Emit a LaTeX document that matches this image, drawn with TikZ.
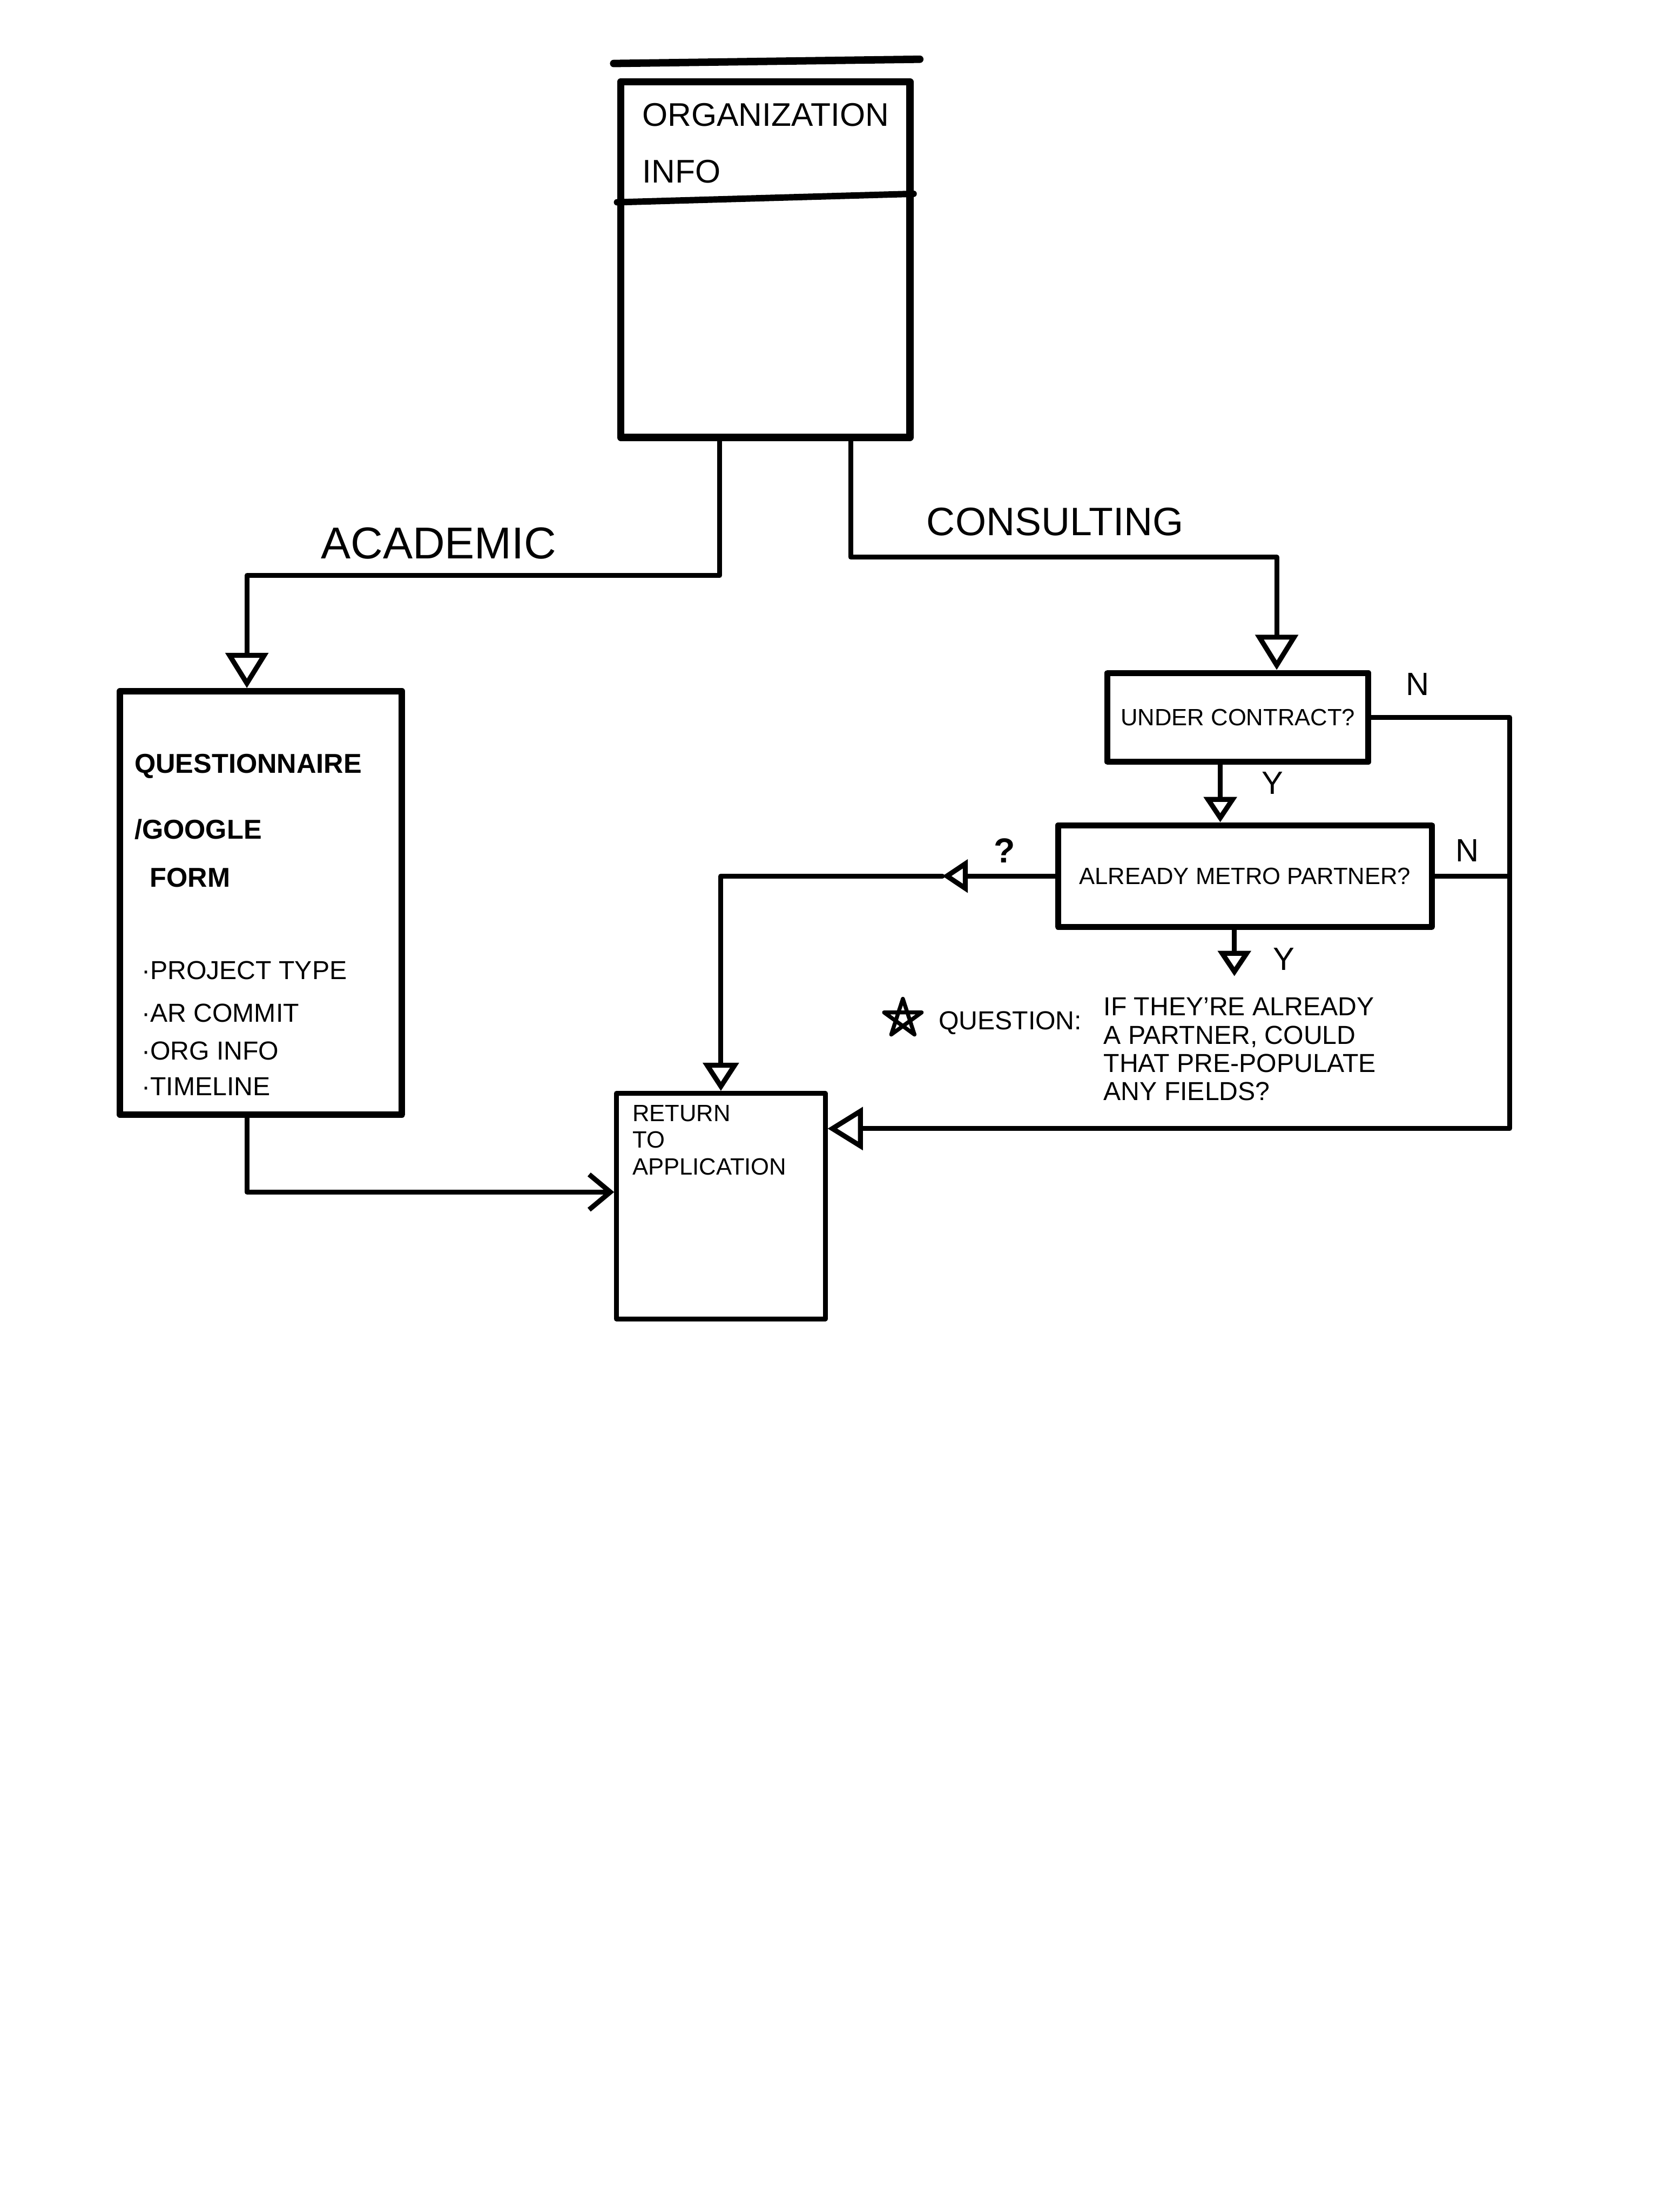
\documentclass[tikz,border=0pt]{standalone}
\usepackage{fontspec}
\setmainfont{Liberation Sans}
\usetikzlibrary{arrows.meta,calc}
\begin{document}
\begin{tikzpicture}[x=0.02cm,y=-0.02cm, line cap=round, line join=round,
  box/.style={draw, line width=2.6pt, inner sep=0pt},
  conn/.style={line width=2pt},
  bigtri/.style={-{Triangle[open,length=0.5cm,width=0.6cm]}},
  midtri/.style={-{Triangle[open,length=0.4cm,width=0.5cm]}},
  smalltri/.style={-{Triangle[open,length=0.36cm,width=0.46cm]}},
  barb/.style={-{Straight Barb[length=0.3cm,width=0.5cm]}},
  txt/.style={inner sep=0pt, anchor=west, font=\fontsize{10.5}{12}\selectfont},
  yn/.style={inner sep=0pt, font=\fontsize{13}{15}\selectfont},
]
\useasboundingbox (0,0) rectangle (1176,1568);
\fill[white] (0,0) rectangle (1176,1568);

% ---------- Organization info ----------
\node[box, line width=3pt, minimum width=4.1cm, minimum height=5.04cm] (org) at (542.5,184) {};
\draw[line width=3pt] (435,45) -- (652,42);
\draw[line width=2.6pt] ($(org.north west)+(0,88)$) -- ($(org.north east)+(0,82)$);
\node[inner sep=0pt, anchor=north west, align=left, font=\fontsize{13.2}{22.8}\selectfont] (orgtxt) at (455,73) {ORGANIZATION\\INFO};

% ---------- Questionnaire ----------
\node[box, minimum width=4cm, minimum height=6cm] (qform) at (185,640) {};
\node[txt, font=\bfseries\fontsize{11}{13}\selectfont] (qt1) at (95,543) {QUESTIONNAIRE};
\node[txt, font=\bfseries\fontsize{11}{13}\selectfont] (qt2) at (95,588) {/GOOGLE};
\node[txt, font=\bfseries\fontsize{11}{13}\selectfont] (qt3) at (106,622) {FORM};
\node[txt] (b1) at (100,688) {·PROJECT TYPE};
\node[txt] (b2) at (100,718) {·AR COMMIT};
\node[txt] (b3) at (100,745) {·ORG INFO};
\node[txt] (b4) at (100,770) {·TIMELINE};

% ---------- Return to application ----------
\node[box, line width=1.9pt, minimum width=2.96cm, minimum height=3.2cm] (ret) at (511,855) {};
\node[inner sep=0pt, anchor=north west, align=left, font=\fontsize{9.5}{10.8}\selectfont] (rettxt) at (448,783) {RETURN\\TO\\APPLICATION};

% ---------- Decisions ----------
\node[box, line width=2.4pt, minimum width=3.7cm, minimum height=1.26cm, font=\fontsize{9.5}{11}\selectfont] (uc) at (877.5,508.5) {UNDER CONTRACT?};
\node[box, line width=2.4pt, minimum width=5.3cm, minimum height=1.44cm, font=\fontsize{9.5}{11}\selectfont] (metro) at (882.5,621) {ALREADY METRO PARTNER?};

% ---------- Connectors ----------
\coordinate (aL) at (510,408);
\coordinate (aD) at (175,408);
\draw[conn, bigtri] (org.south -| aL) -- (aL) -- (aD) -- (qform.north -| aD);
\node[inner sep=0pt, font=\fontsize{18}{20}\selectfont] (acad) at (311,385) {ACADEMIC};

\coordinate (cL) at (603,395);
\coordinate (cR) at (905,395);
\draw[conn, bigtri] (org.south -| cL) -- (cL) -- (cR) -- (uc.north -| cR);
\node[inner sep=0pt, font=\fontsize{16}{18}\selectfont] (cons) at (748,370) {CONSULTING};

\coordinate (ya) at (865,0);
\draw[conn, smalltri] (uc.south -| ya) -- (metro.north -| ya);
\node[yn] (y1) at (902,555) {Y};

\coordinate (nr) at (1070,800);
\draw[conn, bigtri] (uc.east) -| (nr) -- (ret.east |- nr);
\node[yn] (n1) at (1005,485) {N};

\draw[conn] (metro.east) -- (metro.east -| nr);
\node[yn] (n2) at (1040,603) {N};

\coordinate (yb) at (875,692);
\draw[conn, smalltri] (metro.south -| yb) -- (yb);
\node[yn] (y2) at (910,680) {Y};

\coordinate (qa) at (668,621);
\draw[conn, smalltri] (metro.west) -- (qa);
\draw[conn, midtri] (qa) -| (ret.north);
\node[yn, font=\bfseries\fontsize{14}{16}\selectfont] (qm) at (712,603) {?};

\coordinate (aq) at (175,845);
\draw[conn, barb] (qform.south -| aq) -- (aq) -- (ret.west |- aq);

% ---------- Question note ----------
\draw[line width=1.6pt] (640,722) +(-90:14) -- +(54:14) -- +(198:14) -- +(342:14) -- +(126:14) -- cycle;
\node[txt] (qlabel) at (665,725) {QUESTION:};
\node[inner sep=0pt, anchor=north west, align=left, font=\fontsize{10.5}{11.4}\selectfont] (note) at (782,707) {IF THEY'RE ALREADY\\A PARTNER, COULD\\THAT PRE-POPULATE\\ANY FIELDS?};
\end{tikzpicture}
\end{document}
